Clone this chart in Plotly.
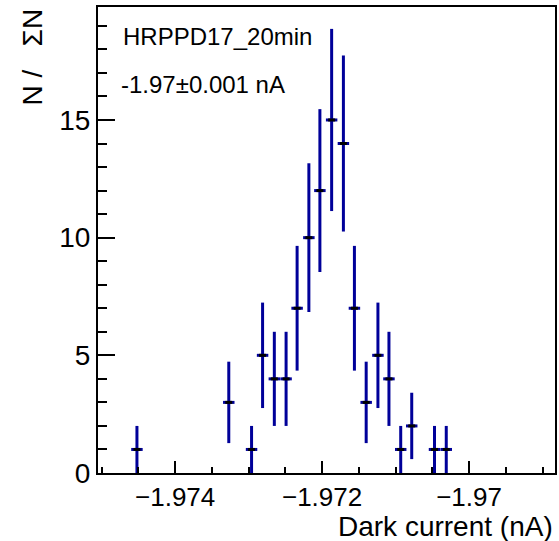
import plotly.graph_objects as go

# bin centres (nA), counts and Poisson errors
dark_current = [-1.97452, -1.97327, -1.97296, -1.97281, -1.97265, -1.97249,
                -1.97234, -1.97218, -1.97203, -1.97187, -1.97171, -1.97156,
                -1.97140, -1.97124, -1.97109, -1.97093, -1.97078, -1.97047,
                -1.97031]
counts = [1, 3, 1, 5, 4, 4, 7, 10, 12, 15, 14, 7, 3, 5, 4, 1, 2, 1, 1]
count_err = [1.0, 1.73, 1.0, 2.24, 2.0, 2.0, 2.65, 3.16, 3.46, 3.87, 3.74,
             2.65, 1.73, 2.24, 2.0, 1.0, 1.41, 1.0, 1.0]
half_bin = 0.000078

blue = 'rgb(0,0,153)'
font = 'Liberation Sans, Arial, Helvetica, sans-serif'

data = [go.Scatter(x=dark_current,
                   y=counts,
                   mode='markers',
                   marker=dict(symbol='line-ew', size=5, color='black',
                               line=dict(color='black', width=3)),
                   error_y=dict(type='data', array=count_err, color=blue,
                                thickness=3, width=0),
                   error_x=dict(type='data', array=[half_bin] * len(counts),
                                color=blue, thickness=3, width=0),
                   showlegend=False)]

layout = go.Layout(
    width=559, height=541,
    margin=dict(l=98, r=2, t=7, b=68),
    paper_bgcolor='white',
    plot_bgcolor='white',
    font=dict(family=font, size=28, color='black'),
    xaxis=dict(range=[-1.97505, -1.96883],
               tick0=-1.974, dtick=0.002,
               ticks='inside', ticklen=12, tickwidth=2, tickcolor='black',
               tickfont=dict(size=26),
               minor=dict(dtick=0.0005, ticks='inside', ticklen=6,
                          tickwidth=2, tickcolor='black'),
               showline=True, linecolor='black', linewidth=2, mirror=True,
               showgrid=False, zeroline=False),
    yaxis=dict(range=[0, 19.8],
               tick0=0, dtick=5,
               ticks='inside', ticklen=17, tickwidth=2, tickcolor='black',
               minor=dict(dtick=1, ticks='inside', ticklen=9,
                          tickwidth=2, tickcolor='black'),
               showline=True, linecolor='black', linewidth=2, mirror=True,
               showgrid=False, zeroline=False),
    annotations=[
        dict(text='HRPPD17_20min', xref='paper', yref='paper',
             x=0.05, y=0.9377, xanchor='left', yanchor='middle',
             showarrow=False, font=dict(size=24)),
        dict(text='-1.97±0.001 nA', xref='paper', yref='paper',
             x=0.046, y=0.8342, xanchor='left', yanchor='middle',
             showarrow=False, font=dict(size=24)),
        dict(text='Dark current (nA)', xref='paper', yref='paper',
             x=1.0, y=-0.114, xanchor='right', yanchor='middle',
             showarrow=False, font=dict(size=28)),
        dict(text='N /\u00a0\u00a0\u00a0ΣN', xref='paper', yref='paper',
             x=-0.1444, y=1.0, xanchor='center', yanchor='top',
             textangle=-90, showarrow=False, font=dict(size=28)),
    ],
)

fig = go.Figure(data=data, layout=layout)
# page body margin would shift the 559x541 figure, so drop it
fig.write_html('out.html',
               config={'displayModeBar': False},
               post_script="document.body.style.margin='0';")
